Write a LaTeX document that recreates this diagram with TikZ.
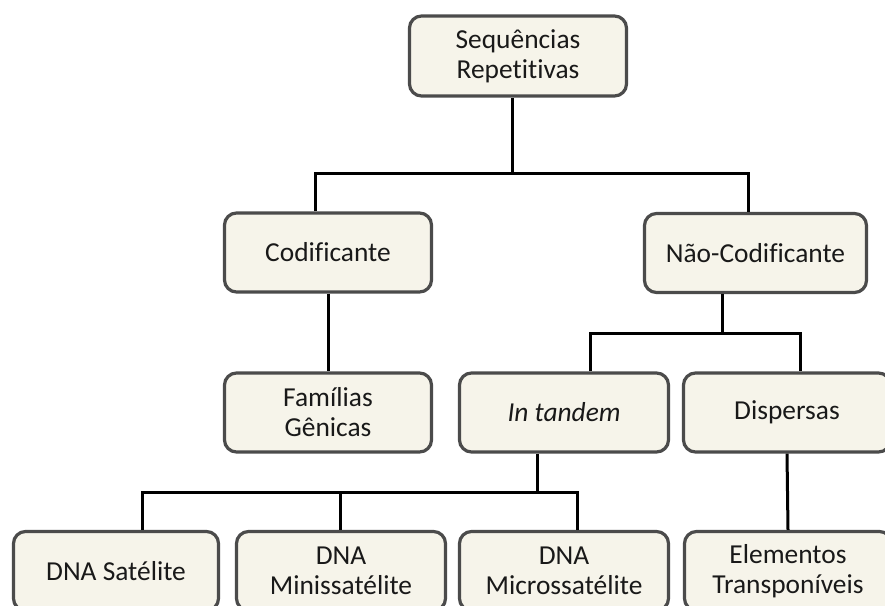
\documentclass[tikz,border=0pt]{standalone}
\usepackage{fontspec}
\setmainfont{Carlito}[Ligatures=NoCommon]
\usepackage{tikz}

\definecolor{boxfill}{RGB}{246,244,234}
\definecolor{boxline}{RGB}{75,75,75}
\definecolor{boxtext}{RGB}{25,25,25}

\tikzset{
  box/.style={draw=boxline, fill=boxfill, line width=3.2bp, rounded corners=12bp,
    minimum height=79bp, inner sep=0pt, align=center, text=boxtext,
    font=\fontsize{27.5}{30}\selectfont},
  link/.style={draw=black, line width=3bp}
}

\begin{document}
\begin{tikzpicture}[x=1bp,y=1bp]
\useasboundingbox (0,0) rectangle (885,-606);
\clip (0,0) rectangle (885,-606);
% boxes
\node[box, minimum width=217bp, minimum height=80bp] (root) at (518,-56) {Sequências\\Repetitivas};
\node[box, minimum width=207bp] (cod) at (328,-252.5) {Codificante};
\node[box, minimum width=222bp] (nao) at (755.5,-253) {Não-Codificante};
\node[box, minimum width=207bp] (fam) at (328,-412.5) {Famílias\\Gênicas};
\node[box, minimum width=209bp] (tan) at (564,-412.5) {\itshape In tandem};
\node[box, minimum width=207bp] (dis) at (787,-412.5) {Dispersas};
\node[box, minimum width=205bp] (sat) at (116,-571) {DNA Satélite};
\node[box, minimum width=209bp] (mini) at (341,-571) {DNA\\Minissatélite};
\node[box, minimum width=209bp] (micro) at (564,-571) {DNA\\Microssatélite};
\node[box, minimum width=207bp] (elem) at (788,-571) {Elementos\\Transponíveis};
% junction points
\coordinate (ja) at (315,-174);
\coordinate (jb) at (748,-174);
\coordinate (jc) at (512,-174);
\coordinate (jd) at (590,-333);
\coordinate (je) at (800,-333);
\coordinate (jf) at (722,-333);
\coordinate (jg) at (142,-492);
\coordinate (jh) at (577,-492);
\coordinate (ji) at (537,-492);
\coordinate (jj) at (340,-492);
% connectors
\draw[link] (root.south -| jc) -- (jc);
\draw[link] (cod.north -| ja) |- (jb) -- (nao.north -| jb);
\draw[link] (cod.south) -- (fam.north);
\draw[link] (nao.south -| jf) -- (jf);
\draw[link] (tan.north -| jd) |- (je) -- (dis.north -| je);
\draw[link] (tan.south -| ji) -- (ji);
\draw[link] (sat.north -| jg) |- (jh) -- (micro.north -| jh);
\draw[link] (mini.north -| jj) -- (jj);
\draw[link] (dis.south) -- (elem.north);
\end{tikzpicture}
\end{document}
